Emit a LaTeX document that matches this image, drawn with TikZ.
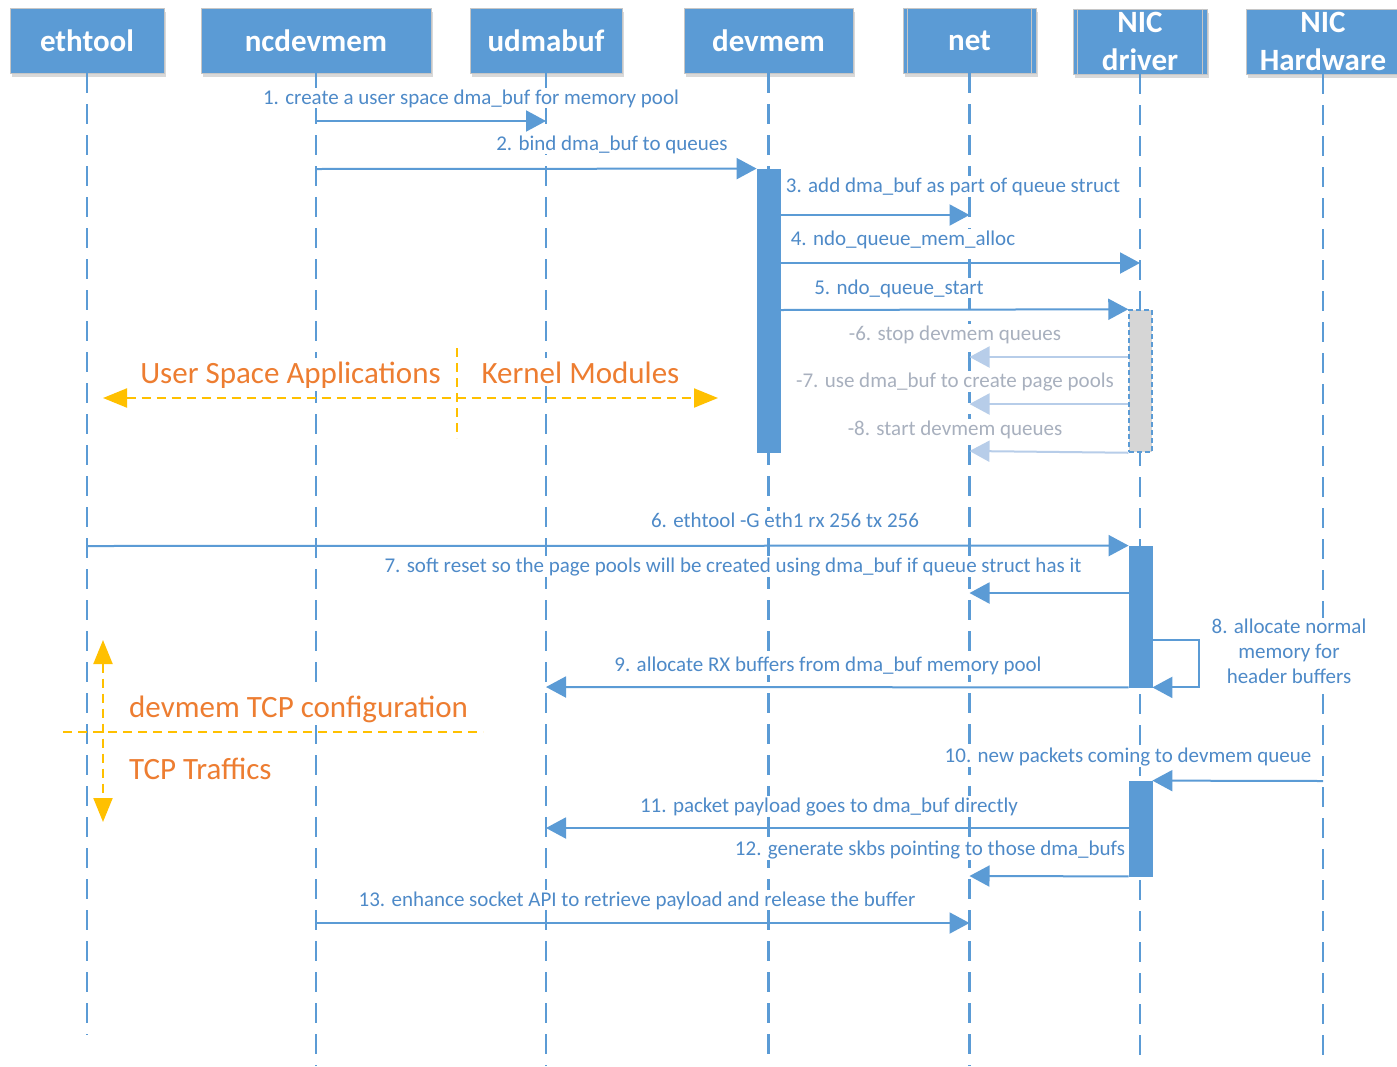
\documentclass[tikz,border=0pt]{standalone}
\usepackage{fontspec}
\setmainfont{Carlito}
\usetikzlibrary{arrows.meta,shadows}
\definecolor{hblue}{HTML}{5B9BD5}
\definecolor{msgtext}{HTML}{4E8AC8}
\definecolor{ghosttext}{HTML}{A8B0BE}
\definecolor{ghostline}{HTML}{B7CDE9}
\definecolor{amber}{HTML}{FFC000}
\definecolor{orangetext}{HTML}{ED7D31}
\definecolor{barfill}{HTML}{D6D6D6}

\begin{document}
\begin{tikzpicture}[x=1pt,y=-1pt,
  header/.style={rectangle, fill=hblue, draw=gray!45, line width=0.8pt, text=white,
    font=\fontsize{31}{38}\selectfont\bfseries, minimum height=65pt, inner sep=0pt, align=center,
    drop shadow={shadow xshift=2pt, shadow yshift=-4pt, opacity=0.15, fill=black}},
  innerrule/.style={draw=gray!45, line width=0.8pt},
  lifeline/.style={draw=hblue, line width=2.7pt, dash pattern=on 20pt off 11pt},
  actbar/.style={rectangle, fill=hblue, draw=hblue, line width=0.8pt, minimum width=23pt, inner sep=0pt},
  idlebar/.style={rectangle, fill=barfill, draw=hblue, dash pattern=on 5pt off 3pt, line width=1.5pt,
    minimum width=23pt, inner sep=0pt},
  msg/.style={draw=hblue, line width=2pt, -{Triangle[length=20pt,width=21pt]}},
  ghostmsg/.style={draw=ghostline, line width=2pt, -{Triangle[length=20pt,width=21pt]}},
  msglabel/.style={fill=white, text=msgtext, font=\fontsize{21}{25}\selectfont, inner sep=1pt, anchor=base},
  ghostlabel/.style={msglabel, text=ghosttext},
  zonelabel/.style={fill=white, text=orangetext, font=\fontsize{31}{36}\selectfont, inner sep=3pt, anchor=base},
  zonerule/.style={draw=amber, line width=2pt, dash pattern=on 9pt off 6pt},
  zonearrow/.style={zonerule, {Triangle[length=24pt,width=19pt]}-{Triangle[length=24pt,width=19pt]}}
]
\fill[white] (0,0) rectangle (1397,1066);
\useasboundingbox (0,0) rectangle (1397,1066);

% participants
\node[header, minimum width=154pt] (eth)  at (87,40.5)    {ethtool};
\node[header, minimum width=230pt] (ncd)  at (316,40.5)   {ncdevmem};
\node[header, minimum width=152pt] (udm)  at (546,40.5)   {udmabuf};
\node[header, minimum width=169pt] (dev)  at (768.5,40.5) {devmem};
\node[header, minimum width=133pt] (net)  at (969.5,40.5) {net};
\node[header, minimum width=134pt] (nicd) at (1140,41.5)  {NIC\\driver};
\node[header, minimum width=154pt] (hw)   at (1323,41.5)  {NIC\\Hardware};
\foreach \n in {net,nicd}{
  \draw[innerrule] ([xshift=5pt]\n.north west) -- ([xshift=5pt]\n.south west);
  \draw[innerrule] ([xshift=-5pt]\n.north east) -- ([xshift=-5pt]\n.south east);
}

% lifeline ends
\coordinate (ethEnd) at (87,1035);
\coordinate (ncdEnd) at (316,1066);
\coordinate (udmEnd) at (546,1066);
\coordinate (devEnd) at (768.5,1058);
\coordinate (netEnd) at (969.5,1066);
\coordinate (nicdEnd) at (1140,1066);
\coordinate (hwEnd) at (1323,1060);
\foreach \n in {eth,ncd,udm,dev,net,nicd,hw}
  \draw[lifeline] (\n.south) -- (\n End);

% message rows
\coordinate (r1) at (0,121);
\coordinate (r2) at (0,169);
\coordinate (r3) at (0,215);
\coordinate (r4) at (0,263);
\coordinate (r5) at (0,310);
\coordinate (r6) at (0,357);
\coordinate (r7) at (0,404);
\coordinate (r8) at (0,451);
\coordinate (s6) at (0,546);
\coordinate (s7) at (0,593);
\coordinate (s8) at (0,640);
\coordinate (s9) at (0,687);
\coordinate (s10) at (0,781);
\coordinate (s11) at (0,828);
\coordinate (s12) at (0,876);
\coordinate (s13) at (0,923);

% activation bars
\node[actbar, minimum height=283pt] (devbar) at (768.5,310.5) {};
\node[idlebar, minimum height=142pt] (nicidle) at (1140.5,381) {};
\node[actbar, minimum height=141pt] (nicbarA) at (1140.5,616.5) {};
\node[actbar, minimum height=95pt] (nicbarB) at (1140.5,828.5) {};

% message labels
\node[msglabel] (l1) at (471,104) {1. create a user space dma\_buf for memory pool};
\node[msglabel] (l2) at (612,150) {2. bind dma\_buf to queues};
\node[msglabel] (l3) at (953,192) {3. add dma\_buf as part of queue struct};
\node[msglabel] (l4) at (903,245) {4. ndo\_queue\_mem\_alloc};
\node[msglabel] (l5) at (899,294) {5. ndo\_queue\_start};
\node[ghostlabel] (g6) at (955,340) {-6. stop devmem queues};
\node[ghostlabel] (g7) at (955,387) {-7. use dma\_buf to create page pools};
\node[ghostlabel] (g8) at (955,435) {-8. start devmem queues};
\node[msglabel] (m6) at (785,527) {6. ethtool -G eth1 rx 256 tx 256};
\node[msglabel] (m7) at (733,572) {7. soft reset so the page pools will be created using dma\_buf if queue struct has it};
\node[msglabel, anchor=center, align=center] (m8) at (1289,651) {8. allocate normal\\memory for\\header buffers};
\node[msglabel] (m9) at (828,671) {9. allocate RX buffers from dma\_buf memory pool};
\node[msglabel] (m10) at (1128,762) {10. new packets coming to devmem queue};
\node[msglabel] (m11) at (829,812) {11. packet payload goes to dma\_buf directly};
\node[msglabel] (m12) at (930,855) {12. generate skbs pointing to those dma\_bufs};
\node[msglabel] (m13) at (637,906) {13. enhance socket API to retrieve payload and release the buffer};

% messages
\draw[msg] (ncd |- r1) -- (udm |- r1);
\draw[msg] (ncd |- r2) -- (devbar.north west);
\draw[msg] (devbar.east |- r3) -- (net |- r3);
\draw[msg] (devbar.east |- r4) -- (nicd |- r4);
\draw[msg] (devbar.east |- r5) -- (nicidle.north west);
\draw[ghostmsg] (nicidle.west |- r6) -- (net |- r6);
\draw[ghostmsg] (nicidle.west |- r7) -- (net |- r7);
\draw[ghostmsg] (nicidle.south west) -- (net |- r8);
\draw[msg] (eth |- s6) -- (nicbarA.north west);
\draw[msg] (nicbarA.west |- s7) -- (net |- s7);
\draw[msg] (nicbarA.east |- s8) -- ++(47,0) |- (nicbarA.south east);
\draw[msg] (nicbarA.south west) -- (udm |- s9);
\draw[msg] (hw |- s10) -- (nicbarB.north east);
\draw[msg] (nicbarB.west |- s11) -- (udm |- s11);
\draw[msg] (nicbarB.south west) -- (net |- s12);
\draw[msg] (ncd |- s13) -- (net |- s13);

% zones: user space / kernel
\node[zonelabel] (usr) at (290.5,383) {User Space Applications};
\node[zonelabel] (krn) at (580.5,383) {Kernel Modules};
\coordinate (zl) at (103,398);
\coordinate (zr) at (718,398);
\coordinate (zt) at (457,348);
\coordinate (zb) at (457,438);
\draw[zonearrow] (zl) -- (zr);
\draw[zonerule] (zt) -- (zb);

% phases: configuration / traffic
\node[zonelabel, anchor=base west] (cfg) at (126,717) {devmem TCP configuration};
\node[zonelabel, anchor=base west] (trf) at (126,779) {TCP Traffics};
\coordinate (pt) at (103,640);
\coordinate (pb) at (103,822);
\coordinate (pl) at (63,732);
\coordinate (pr) at (483,732);
\draw[zonearrow] (pt) -- (pb);
\draw[zonerule] (pl) -- (pr);
\end{tikzpicture}
\end{document}
